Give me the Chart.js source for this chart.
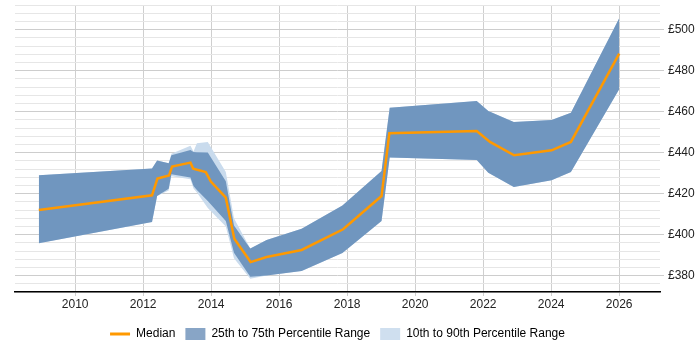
<!DOCTYPE html>
<html>
<head>
<meta charset="utf-8">
<script src="https://cdn.jsdelivr.net/npm/chart.js@4.4.1/dist/chart.umd.min.js"></script>
<style>
  html, body { margin: 0; padding: 0; background: #fff; }
  #wrap { width: 700px; height: 350px; }
</style>
</head>
<body>
<div id="wrap"><canvas id="chart"></canvas></div>
<script>
// median salary line
const medianYears = [2008.93, 2012.26, 2012.42, 2012.76, 2012.85, 2013.39, 2013.47, 2013.84, 2013.99, 2014.43, 2014.68, 2015.16, 2015.63, 2016.66, 2017.88, 2019.01, 2019.24, 2021.81, 2022.2, 2022.91, 2024.01, 2024.58, 2026];
const median = [412.0, 419.2, 427.3, 428.9, 433.2, 435.1, 432.2, 430.5, 425.9, 418.0, 398.0, 386.6, 389.1, 392.5, 402.6, 418.8, 449.4, 450.5, 445.2, 438.7, 441.1, 445.2, 488.3];

// percentile bands
const bandYears = [2008.93, 2012.26, 2012.41, 2012.75, 2012.83, 2013.39, 2013.48, 2013.58, 2013.9, 2014.43, 2014.67, 2015.15, 2015.63, 2016.66, 2017.86, 2019.01, 2019.25, 2021.81, 2022.15, 2022.9, 2024.01, 2024.58, 2026];
const p75 = [428.9, 432.2, 436.2, 434.8, 438.7, 441.3, 440.3, 440.2, 440.0, 426.0, 404.5, 393.2, 397.4, 402.9, 414.2, 431.0, 461.9, 465.2, 460.3, 454.9, 455.9, 459.5, 505.5];
const p25 = [395.8, 406.1, 418.8, 422.4, 429.4, 427.8, 423.7, 421.8, 416.4, 406.6, 391.2, 379.5, 380.1, 382.2, 391.0, 406.6, 437.6, 436.4, 430.2, 423.2, 426.5, 430.5, 470.9];
const p90 = [428.9, 432.2, 436.2, 434.8, 439.4, 443.4, 440.5, 444.6, 445.2, 430.5, 408.0, 393.2, 397.4, 402.9, 414.2, 431.0, 461.9, 465.2, 460.3, 454.9, 455.9, 459.5, 505.5];
const p10 = [395.8, 406.1, 418.8, 421.5, 428.5, 427.0, 422.5, 420.5, 413.0, 404.0, 388.5, 378.5, 380.1, 382.2, 391.0, 406.6, 437.6, 436.4, 430.2, 423.2, 426.5, 430.5, 470.9];

const legendLabels = ['Median', '25th to 75th Percentile Range', '10th to 90th Percentile Range'];

const orange = '#ff9900';
const darkBand = '#7096bf';
const lightBand = '#c9dbed';
const fontFamily = "'Liberation Sans', Arial, sans-serif";

const pts = (xs, ys) => xs.map((x, i) => ({ x: x, y: ys[i] }));

const bandStyle = {
    borderColor: 'transparent',
    borderWidth: 0,
    pointRadius: 0,
    pointHoverRadius: 0,
    tension: 0
};

new Chart(document.getElementById('chart').getContext('2d'), {
    type: 'line',
    data: {
        datasets: [{
            label: legendLabels[0],
            data: pts(medianYears, median),
            borderColor: orange,
            borderWidth: 2.5,
            pointRadius: 0,
            tension: 0,
            fill: false,
            order: 0
        }, {
            ...bandStyle,
            label: legendLabels[1],
            data: pts(bandYears, p75),
            backgroundColor: darkBand,
            fill: '+1',
            order: 1
        }, {
            ...bandStyle,
            label: 'p25',
            data: pts(bandYears, p25),
            fill: false,
            order: 2
        }, {
            ...bandStyle,
            label: legendLabels[2],
            data: pts(bandYears, p90),
            backgroundColor: lightBand,
            fill: '+1',
            order: 3
        }, {
            ...bandStyle,
            label: 'p10',
            data: pts(bandYears, p10),
            fill: false,
            order: 4
        }]
    },
    options: {
        responsive: true,
        maintainAspectRatio: false,
        animation: false,
        layout: {
            padding: { left: 15, top: 5, right: 0, bottom: 0 }
        },
        plugins: {
            tooltip: { enabled: false },
            title: { display: false },
            legend: {
                position: 'bottom',
                fullSize: false,
                labels: {
                    usePointStyle: true,
                    pointStyleWidth: 20,
                    boxHeight: 13,
                    padding: 10,
                    color: '#222',
                    font: { size: 12, family: fontFamily },
                    generateLabels: () => [
                        { text: legendLabels[0], pointStyle: 'line', strokeStyle: orange, fillStyle: orange, lineWidth: 3, hidden: false },
                        { text: legendLabels[1], pointStyle: 'rect', fillStyle: '#88a5c6', strokeStyle: '#88a5c6', lineWidth: 0, hidden: false },
                        { text: legendLabels[2], pointStyle: 'rect', fillStyle: '#cfdfef', strokeStyle: '#cfdfef', lineWidth: 0, hidden: false }
                    ]
                }
            }
        },
        scales: {
            x: {
                type: 'linear',
                min: 2008.23,
                max: 2027.2,
                afterBuildTicks: (scale) => {
                    scale.ticks = scale.ticks.filter(t => t.value % 2 === 0 && t.value >= scale.min && t.value <= scale.max);
                },
                ticks: {
                    stepSize: 2,
                    includeBounds: false,
                    maxRotation: 0,
                    autoSkip: false,
                    color: '#222',
                    padding: 1,
                    font: { size: 12, family: fontFamily },
                    callback: (v) => String(v)
                },
                grid: {
                    color: '#cfcfcf',
                    tickLength: 4,
                    tickColor: '#cfcfcf'
                },
                border: { color: '#000', width: 1.5 },
                afterFit: (scale) => { scale.height = 26; }
            },
            y: {
                type: 'linear',
                position: 'right',
                min: 372,
                max: 512,
                ticks: {
                    stepSize: 4,
                    autoSkip: false,
                    color: '#222',
                    padding: 4,
                    font: { size: 12, family: fontFamily },
                    callback: (v) => (v % 20 === 0 ? '£' + v : '')
                },
                grid: {
                    color: (ctx) => (ctx.tick && ctx.tick.value % 20 === 0 ? '#cdcdcd' : '#e6e6e6'),
                    tickColor: (ctx) => (ctx.tick && ctx.tick.value % 20 === 0 ? '#cdcdcd' : 'rgba(0,0,0,0)'),
                    tickLength: 4
                },
                border: { display: false },
                afterFit: (scale) => {
                    scale.width = 40;
                    scale.paddingTop = 0;
                    scale.paddingBottom = 0;
                }
            }
        }
    }
});
</script>
</body>
</html>
